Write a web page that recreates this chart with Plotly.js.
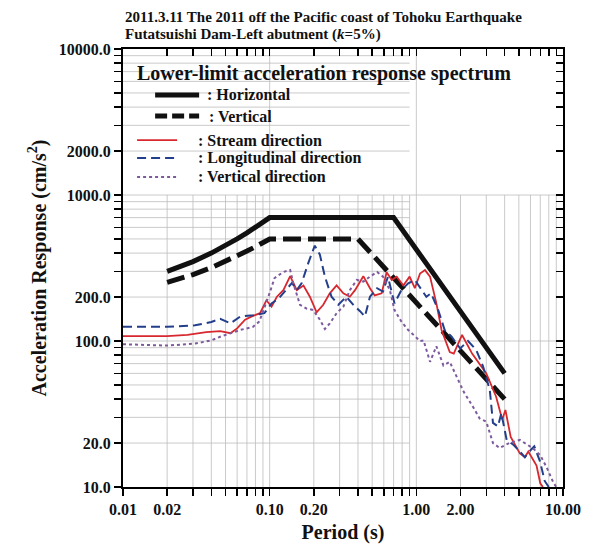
<!DOCTYPE html>
<html><head><meta charset="utf-8">
<script src="https://cdn.plot.ly/plotly-3.0.1.min.js"></script>
<style>html,body{margin:0;padding:0;background:#fff}</style>
</head><body><div id="chart" style="width:590px;height:545px"></div>
<script>
// ---- Data ----
const limitHPeriod = [0.02, 0.03, 0.04, 0.05, 0.06, 0.07, 0.08, 0.09, 0.10, 0.70, 4.0];
const limitHAcc    = [300, 350, 400, 450, 500, 550, 600, 650, 700, 700, 60];

const limitVPeriod = [0.02, 0.03, 0.04, 0.05, 0.06, 0.07, 0.08, 0.09, 0.10, 0.40, 4.0];
const limitVAcc    = [252, 285, 318, 350, 382, 413, 442, 472, 500, 500, 40];

const streamPeriod = [0.01,0.02,0.0275,0.037,0.046,0.054,0.06,0.068,0.075,0.086,0.095,0.103,0.112,0.124,0.138,0.153,0.17,0.188,0.209,0.232,0.257,0.286,0.318,0.352,0.382,0.435,0.483,0.52,0.58,0.627,0.68,0.735,0.815,0.90,0.977,1.06,1.146,1.24,1.37,1.486,1.69,1.80,2.05,2.4,3.0,3.5,3.85,4.05,4.4,5.08,5.5,5.8,6.6,7.0,7.3];
const streamAcc    = [108,108,110,115,117,113,122,140,147,155,190,172,201,223,278,223,240,201,157,177,212,240,212,201,223,278,230,205,212,296,262,276,240,276,230,290,306,276,181,119,84,82,110,82,60,41.5,29,33.7,22,17,16,17.5,14,10.6,10];

const longPeriod = [0.01,0.02,0.031,0.04,0.046,0.054,0.063,0.077,0.092,0.103,0.115,0.128,0.142,0.153,0.165,0.183,0.203,0.22,0.238,0.264,0.294,0.333,0.372,0.413,0.446,0.483,0.54,0.592,0.64,0.71,0.79,0.88,0.977,1.09,1.17,1.26,1.41,1.56,1.74,1.99,2.25,2.56,2.85,3.17,3.33,3.6,3.8,4.13,4.58,5.08,5.49,6.05,6.37,6.97,7.5,8.0];
const longAcc    = [125,125,128,135,142,132,147,150,155,181,195,223,250,223,248,340,450,390,276,201,177,201,177,160,147,201,230,218,275,181,223,248,262,223,201,212,163,119,107,89,100,87,67,46,27.5,26,32,21,19.5,17.5,16,18,19,15,11,10];

const vertPeriod = [0.01,0.02,0.031,0.04,0.046,0.054,0.063,0.077,0.085,0.097,0.108,0.124,0.138,0.145,0.161,0.178,0.198,0.22,0.238,0.257,0.286,0.318,0.352,0.393,0.435,0.483,0.54,0.592,0.66,0.71,0.79,0.88,0.977,1.06,1.12,1.24,1.37,1.53,1.69,1.89,2.1,2.45,2.7,3.0,3.33,3.7,4.3,5.08,6.2,7.0,7.77,8.57,9.0];
const vertAcc    = [95,93,96,101,107,113,119,125,136,195,270,297,306,248,177,167,163,140,121,132,155,172,223,262,255,276,297,276,223,163,136,119,107,100,101,72,92,68,72,57,45,35,29.5,28,20,18.5,20,21,18.5,16.5,13.5,10.8,10];

// ---- Axis ticks ----
const xTickVals = [0.01,0.02,0.03,0.04,0.05,0.06,0.07,0.08,0.09,0.1,0.2,0.3,0.4,0.5,0.6,0.7,0.8,0.9,1,2,3,4,5,6,7,8,9,10];
const xTickText = ['0.01','0.02','','','','','','','','0.10','0.20','','','','','','','','1.00','2.00','','','','','','','','10.00'];
const yTickVals = [10,20,30,40,50,60,70,80,90,100,200,300,400,500,600,700,800,900,1000,2000,3000,4000,5000,6000,7000,8000,9000,10000];
const yTickText = ['10.0','20.0','','','','','','','','100.0','200.0','','','','','','','','1000.0','2000.0','','','','','','','','10000.0'];
const xDecades = [0.1, 1];
const yDecades = [100, 1000];

const titleLines = ['2011.3.11 The 2011 off the Pacific coast of Tohoku Earthquake', 'Futatsuishi Dam-Left abutment (<i>k</i>=5%)'];

const serif = 'Liberation Serif, Times New Roman, serif';
const cRed = '#d7282f', cBlue = '#233f8c', cPurple = '#7d5a9e';

const traces = [
  {x: limitHPeriod, y: limitHAcc, mode: 'lines', line: {color: '#111', width: 5}, name: 'Horizontal'},
  {x: limitVPeriod, y: limitVAcc, mode: 'lines', line: {color: '#111', width: 5, dash: '18px,7px'}, name: 'Vertical'},
  {x: streamPeriod, y: streamAcc, mode: 'lines', line: {color: cRed, width: 1.8}, name: 'Stream direction'},
  {x: longPeriod, y: longAcc, mode: 'lines', line: {color: cBlue, width: 2, dash: '9px,5px'}, name: 'Longitudinal direction'},
  {x: vertPeriod, y: vertAcc, mode: 'lines', line: {color: cPurple, width: 2, dash: '3px,3px'}, name: 'Vertical direction'},
  {x: [], y: [], xaxis: 'x2', yaxis: 'y2', showlegend: false, hoverinfo: 'skip'}
];

// ---- Grid lines as shapes (partial grid as in the reference) ----
const shapes = [];
const gridLine = {color: '#bdbdbd', width: 0.8};
xTickVals.forEach(v => {
  if (v <= 0.01 || v >= 10) return;
  const full = xDecades.includes(v);
  shapes.push({type: 'line', xref: 'x', yref: 'y', x0: v, x1: v, y0: 10, y1: full ? 10000 : 1000, line: gridLine, layer: 'below'});
});
yTickVals.forEach(v => {
  if (v <= 10 || v >= 10000) return;
  const full = yDecades.includes(v);
  shapes.push({type: 'line', xref: 'x', yref: 'y', y0: v, y1: v, x0: 0.01, x1: full ? 10 : 0.9, line: gridLine, layer: 'below'});
});

// ---- Custom legend (paper coordinates) ----
const legendItems = [
  {text: ': Horizontal', y: 0.895, x0: 0.073, x1: 0.173, tx: 0.186, line: {color: '#111', width: 5}},
  {text: ': Vertical', y: 0.847, x0: 0.073, x1: 0.173, tx: 0.190, line: {color: '#111', width: 5, dash: '12px,5px'}},
  {text: ': Stream direction', y: 0.792, x0: 0.032, x1: 0.123, tx: 0.165, line: {color: cRed, width: 1.8}},
  {text: ': Longitudinal direction', y: 0.751, x0: 0.032, x1: 0.123, tx: 0.165, line: {color: cBlue, width: 2, dash: '9px,5px'}},
  {text: ': Vertical direction', y: 0.708, x0: 0.032, x1: 0.123, tx: 0.165, line: {color: cPurple, width: 2, dash: '3px,3px'}}
];
const annotations = [
  {xref: 'paper', yref: 'paper', x: 0.027, y: 0.945, xanchor: 'left', yanchor: 'middle', showarrow: false,
   text: '<b>Lower-limit acceleration response spectrum</b>', font: {family: serif, size: 20, color: '#111'}},
  {xref: 'paper', yref: 'paper', x: 0, y: (487 - 17) / 438, xanchor: 'left', yanchor: 'middle', showarrow: false,
   text: '<b>' + titleLines[0] + '</b>', font: {family: serif, size: 15, color: '#111'}},
  {xref: 'paper', yref: 'paper', x: 0, y: (487 - 35) / 438, xanchor: 'left', yanchor: 'middle', showarrow: false,
   text: '<b>' + titleLines[1] + '</b>', font: {family: serif, size: 15, color: '#111'}}
];
legendItems.forEach(it => {
  shapes.push({type: 'line', xref: 'paper', yref: 'paper', x0: it.x0, x1: it.x1, y0: it.y, y1: it.y, line: it.line});
  annotations.push({xref: 'paper', yref: 'paper', x: it.tx, y: it.y, xanchor: 'left', yanchor: 'middle', showarrow: false,
    text: '<b>' + it.text + '</b>', font: {family: serif, size: 16, color: '#111'}});
});

const baseAxis = {
  type: 'log', showgrid: false, zeroline: false, showline: true, linecolor: '#000', linewidth: 2,
  ticks: 'outside', ticklen: 7, tickwidth: 1.5, tickcolor: '#000', tickangle: 0
};

const layout = {
  width: 590, height: 545,
  margin: {l: 123, r: 27, t: 49, b: 58},
  paper_bgcolor: '#fff', plot_bgcolor: '#fff',
  showlegend: false,
  xaxis: Object.assign({}, baseAxis, {
    range: [-2, 1], tickmode: 'array', tickvals: xTickVals, ticktext: xTickText,
    tickfont: {family: serif, size: 16, color: '#111', weight: 'bold'},
    title: {text: '<b>Period (s)</b>', font: {family: serif, size: 20, color: '#111'}, standoff: 8}
  }),
  yaxis: Object.assign({}, baseAxis, {
    range: [1, 4], tickmode: 'array', tickvals: yTickVals, ticktext: yTickText,
    tickfont: {family: serif, size: 16, color: '#111', weight: 'bold'},
    title: {text: '<b>Acceleration Response (cm/s<sup>2</sup>)</b>', font: {family: serif, size: 20, color: '#111'}, standoff: 7}
  }),
  xaxis2: Object.assign({}, baseAxis, {
    overlaying: 'x', side: 'top', anchor: 'y2', range: [-2, 1], tickmode: 'array', tickvals: xTickVals,
    showticklabels: false, ticks: 'inside', ticklen: 7
  }),
  yaxis2: Object.assign({}, baseAxis, {
    overlaying: 'y', side: 'right', anchor: 'x2', range: [1, 4], tickmode: 'array', tickvals: yTickVals,
    showticklabels: false, ticks: 'inside', ticklen: 7
  }),
  shapes: shapes,
  annotations: annotations
};

Plotly.newPlot('chart', traces, layout, {displayModeBar: false, staticPlot: true});
</script></body></html>
